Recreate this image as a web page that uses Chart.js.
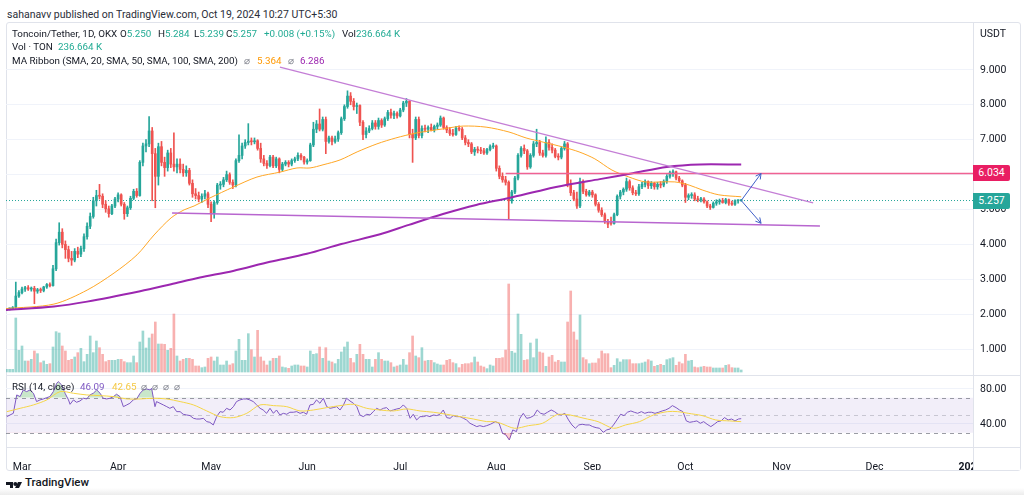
<!DOCTYPE html>
<html>
<head>
<meta charset="utf-8">
<script src="https://cdn.jsdelivr.net/npm/chart.js@4"></script>
<style>
  body { margin: 0; width: 1024px; height: 495px; overflow: hidden; background: #fff;
         font-family: Roboto, "Noto Sans", sans-serif; color: #131722; position: relative; }
  .abs { position: absolute; white-space: nowrap; }
  .frame { position: absolute; left: 6px; top: 22px; width: 1013px; height: 447px;
           border: 1px solid #e0e3eb; border-radius: 3px; box-sizing: content-box; }
  .hline { position: absolute; height: 1px; background: #e0e3eb; }
  .vline { position: absolute; width: 1px; background: #e0e3eb; }
  .lg { position: absolute; font-size: 9.8px; line-height: 12px; white-space: nowrap; }
  .up { color: #22ab94; }
  .muted { color: #787b86; }
  .tag { position: absolute; left: 973px; width: 37px; height: 16px; line-height: 16px;
         color: #fff; font-size: 10.5px; text-align: center; border-radius: 0 2px 2px 0; }
  #main { position: absolute; left: 6px; top: 22px; }
  #rsi { position: absolute; left: 6px; top: 375px; }
</style>
</head>
<body>
<div class="abs" style="left:7px;top:8px;font-size:10.5px;color:#2a2e39;">sahanavv published on TradingView.com, Oct 19, 2024 10:27 UTC+5:30</div>

<div class="frame"></div>
<canvas id="main" width="1014" height="353"></canvas>
<canvas id="rsi" width="1014" height="95"></canvas>

<div class="hline" style="left:6px;top:375px;width:1014px;"></div>
<div class="hline" style="left:6px;top:447px;width:1014px;"></div>
<div class="vline" style="left:973px;top:22px;height:448px;"></div>

<!-- legends -->
<div class="lg" style="left:12px;top:28px;">Toncoin/Tether, 1D, OKX</div>
<div class="lg" style="left:120px;top:28px;">O<span class="up">5.250</span></div>
<div class="lg" style="left:158px;top:28px;">H<span class="up">5.284</span></div>
<div class="lg" style="left:194px;top:28px;">L<span class="up">5.239</span></div>
<div class="lg" style="left:226px;top:28px;">C<span class="up">5.257</span></div>
<div class="lg up" style="left:264px;top:28px;">+0.008 (+0.15%)</div>
<div class="lg" style="left:342px;top:28px;">Vol<span class="up">236.664 K</span></div>
<div class="lg" style="left:12px;top:41px;">Vol · TON</div>
<div class="lg up" style="left:58px;top:41px;">236.664 K</div>
<div class="lg" style="left:12px;top:55px;">MA Ribbon (SMA, 20, SMA, 50, SMA, 100, SMA, 200)</div>
<div class="lg muted" style="left:244px;top:55px;">⌀</div>
<div class="lg" style="left:257px;top:55px;color:#ff9800;">5.364</div>
<div class="lg muted" style="left:288px;top:55px;">⌀</div>
<div class="lg" style="left:300px;top:55px;color:#9c27b0;">6.286</div>
<div class="lg" style="left:993px;top:28px;transform:translateX(-50%);font-size:10.5px;">USDT</div>

<div class="lg" style="left:12px;top:381px;">RSI (14, close)</div>
<div class="lg" style="left:80px;top:381px;color:#7e57c2;">46.09</div>
<div class="lg" style="left:112px;top:381px;color:#f5c842;">42.65</div>
<div class="lg muted" style="left:141px;top:381px;letter-spacing:5px;">⌀⌀⌀⌀</div>

<div class="tag" id="tagRes" style="background:#e91e63;">6.034</div>
<div class="tag" id="tagLast" style="background:#26a69a;">5.257</div>

<div class="abs" style="left:6px;top:477px;">
  <svg width="16" height="10" viewBox="0 0 16 10"><path d="M0 0h7v10H4V3H0z" fill="#131722"/><circle cx="9.3" cy="2" r="2" fill="#131722"/><path d="M12 0h4l-5 10H7z" fill="#131722"/></svg>
</div>
<div class="abs" style="left:25px;top:475px;font-size:11.5px;font-weight:500;">TradingView</div>
<div class="abs" style="left:0;top:488px;width:1024px;height:7px;background:linear-gradient(#fff,#ececec);"></div>

<script>
// day 0 = 1 Mar 2024, first candle 25 Feb 2024
const firstDay = -5;

const opens = [
  2.12,2.15,2.16,2.19,2.52,2.62,2.72,2.76,2.72,2.74,
  2.66,2.70,2.68,2.78,2.85,2.82,3.30,4.05,4.35,4.00,
  3.85,3.60,3.55,3.80,3.72,3.88,4.22,4.52,4.80,5.25,
  5.40,5.38,5.15,5.02,4.88,5.10,5.30,5.42,5.15,4.88,
  5.05,5.32,5.52,5.40,6.35,6.82,6.88,7.25,6.60,5.95,
  6.80,6.35,6.20,6.62,6.30,6.22,6.30,6.15,6.05,6.12,
  5.75,5.45,5.40,5.30,5.38,5.45,5.15,4.90,5.20,5.70,
  5.72,5.85,6.00,5.78,5.70,6.40,6.55,6.82,6.92,6.96,
  6.94,6.97,6.75,6.45,6.32,6.26,6.50,6.25,6.45,6.15,
  6.30,6.35,6.30,6.40,6.45,6.55,6.50,6.36,6.40,6.85,
  7.30,7.45,7.30,7.58,6.95,7.05,6.95,7.02,7.20,7.60,
  7.95,8.25,8.10,7.95,7.98,7.50,7.15,7.25,7.32,7.48,
  7.38,7.55,7.42,7.60,7.78,7.70,7.75,7.68,7.85,8.05,
  8.10,7.15,7.05,7.58,7.12,7.32,7.30,7.35,7.28,7.38,
  7.42,7.62,7.35,7.28,7.18,7.15,7.33,7.30,7.05,6.92,
  6.88,6.65,6.72,6.70,6.68,6.62,6.72,6.80,6.82,6.18,
  5.95,5.85,5.78,5.25,5.50,5.90,6.55,6.75,6.68,6.22,
  6.55,6.88,6.92,6.62,6.55,6.92,6.78,6.70,6.52,6.50,
  6.75,6.88,5.72,5.48,5.30,5.10,5.80,5.52,5.42,5.50,
  5.42,5.15,4.98,4.85,4.65,4.62,4.60,4.85,5.38,5.50,
  5.58,5.80,5.62,5.48,5.45,5.65,5.72,5.80,5.68,5.75,
  5.65,5.72,5.70,5.80,5.95,6.05,6.08,5.90,5.82,5.70,
  5.35,5.40,5.42,5.30,5.28,5.30,5.22,5.10,5.06,5.18,
  5.22,5.25,5.20,5.28,5.18,5.15,5.25,5.250
];
const highs = [
  2.17,2.18,2.22,2.92,2.68,2.78,2.80,2.82,2.78,2.80,
  2.74,2.75,2.80,2.88,2.90,3.40,4.15,4.62,4.45,4.10,
  3.95,3.80,3.88,3.92,3.95,4.30,4.62,4.90,5.35,5.55,
  5.72,5.45,5.25,5.10,5.15,5.35,5.48,5.45,5.20,5.10,
  5.38,5.58,5.60,6.40,6.90,7.00,7.66,7.35,6.75,6.90,
  6.95,6.50,6.70,6.75,7.20,6.45,6.45,6.30,6.25,6.18,
  5.85,5.60,5.50,5.45,5.55,5.50,5.22,5.25,5.75,5.80,
  5.92,6.10,6.05,5.85,6.45,7.14,6.90,7.00,7.46,7.05,
  7.05,7.00,6.90,6.55,6.40,6.55,6.55,6.50,6.48,6.35,
  6.40,6.40,6.45,6.50,6.62,6.60,6.52,6.45,6.90,7.50,
  7.55,7.88,7.65,7.65,7.10,7.10,7.10,7.25,7.65,8.00,
  8.40,8.35,8.18,8.05,8.00,7.55,7.35,7.40,7.55,7.55,
  7.62,7.60,7.65,7.84,7.88,7.82,7.80,7.90,8.10,8.18,
  8.12,7.30,7.65,7.65,7.40,7.42,7.40,7.45,7.42,7.48,
  7.68,7.65,7.40,7.35,7.30,7.38,7.40,7.35,7.12,7.00,
  6.92,6.78,6.80,6.78,6.75,6.75,6.85,6.90,6.85,6.25,
  6.05,5.95,5.82,5.55,5.95,6.60,6.80,6.85,6.72,6.60,
  6.95,7.30,6.98,6.70,7.08,7.00,6.88,6.75,6.60,6.80,
  6.95,6.92,5.85,5.55,5.50,5.90,5.85,5.58,5.55,5.55,
  5.45,5.20,5.05,4.90,4.72,4.78,4.90,5.42,5.55,5.62,
  5.90,5.85,5.68,5.55,5.72,5.78,5.85,5.82,5.80,5.78,
  5.78,5.80,5.85,6.00,6.10,6.14,6.10,5.95,5.85,5.75,
  5.45,5.48,5.48,5.38,5.35,5.34,5.25,5.15,5.22,5.28,
  5.30,5.32,5.32,5.30,5.24,5.28,5.28,5.284
];
const lows = [
  2.10,2.12,2.14,2.17,2.48,2.58,2.65,2.68,2.66,2.30,
  2.60,2.62,2.64,2.74,2.78,2.80,3.25,3.98,3.90,3.60,
  3.50,3.40,3.50,3.62,3.65,3.80,4.15,4.45,4.75,5.10,
  5.30,5.05,4.92,4.78,4.85,5.05,5.22,5.10,4.72,4.80,
  5.00,5.28,5.35,5.38,6.25,6.65,6.80,5.25,5.05,5.70,
  6.25,5.95,6.10,6.20,6.10,6.05,6.05,5.95,5.95,5.70,
  5.35,5.30,5.22,5.20,5.30,5.05,4.65,4.75,5.15,5.58,
  5.65,5.80,5.72,5.60,5.65,6.35,6.45,6.75,6.85,6.85,
  6.88,6.70,6.35,6.25,6.18,6.22,6.20,6.20,6.05,6.10,
  6.25,6.22,6.25,6.35,6.40,6.42,6.30,6.30,6.38,6.80,
  7.20,7.25,7.25,6.60,6.90,6.85,6.90,6.95,7.15,7.55,
  7.90,8.00,7.85,7.75,7.40,7.00,7.05,7.20,7.28,7.30,
  7.30,7.35,7.38,7.55,7.62,7.60,7.62,7.65,7.80,7.95,
  7.05,6.35,7.00,7.05,7.05,7.22,7.20,7.25,7.22,7.30,
  7.38,7.30,7.20,7.12,7.10,7.12,7.25,7.00,6.85,6.80,
  6.60,6.55,6.62,6.60,6.58,6.58,6.68,6.75,6.10,5.88,
  5.78,5.70,4.72,5.18,5.45,5.85,6.50,6.60,6.15,6.18,
  6.50,6.80,6.55,6.50,6.50,6.70,6.62,6.48,6.42,6.45,
  6.70,5.65,5.40,5.25,5.03,5.05,5.45,5.38,5.38,5.35,
  5.10,4.92,4.80,4.60,4.48,4.55,4.58,4.82,5.30,5.42,
  5.52,5.55,5.42,5.40,5.40,5.60,5.65,5.60,5.60,5.58,
  5.58,5.62,5.65,5.75,5.90,5.95,5.85,5.78,5.65,5.20,
  5.28,5.32,5.25,5.22,5.22,5.18,5.05,5.00,5.04,5.12,
  5.15,5.18,5.16,5.12,5.12,5.12,5.18,5.239
];
const closes = [
  2.15,2.16,2.19,2.52,2.62,2.72,2.76,2.72,2.74,2.66,
  2.70,2.68,2.78,2.85,2.82,3.30,4.05,4.35,4.00,3.85,
  3.60,3.55,3.80,3.72,3.88,4.22,4.52,4.80,5.25,5.40,
  5.38,5.15,5.02,4.88,5.10,5.30,5.42,5.15,4.88,5.05,
  5.32,5.52,5.40,6.35,6.82,6.88,7.25,6.60,5.95,6.80,
  6.35,6.20,6.62,6.30,6.22,6.30,6.15,6.05,6.12,5.75,
  5.45,5.40,5.30,5.38,5.45,5.15,4.90,5.20,5.70,5.72,
  5.85,6.00,5.78,5.70,6.40,6.55,6.82,6.92,6.96,6.94,
  6.97,6.75,6.45,6.32,6.26,6.50,6.25,6.45,6.15,6.30,
  6.35,6.30,6.40,6.45,6.55,6.50,6.36,6.40,6.85,7.30,
  7.45,7.30,7.58,6.95,7.05,6.95,7.02,7.20,7.60,7.95,
  8.25,8.10,7.95,7.98,7.50,7.15,7.25,7.32,7.48,7.38,
  7.55,7.42,7.60,7.78,7.70,7.75,7.68,7.85,8.05,8.10,
  7.15,7.05,7.58,7.12,7.32,7.30,7.35,7.28,7.38,7.42,
  7.62,7.35,7.28,7.18,7.15,7.33,7.30,7.05,6.92,6.88,
  6.65,6.72,6.70,6.68,6.62,6.72,6.80,6.82,6.18,5.95,
  5.85,5.78,5.25,5.50,5.90,6.55,6.75,6.68,6.22,6.55,
  6.88,6.92,6.62,6.55,6.92,6.78,6.70,6.52,6.50,6.75,
  6.88,5.72,5.48,5.30,5.10,5.80,5.52,5.42,5.50,5.42,
  5.15,4.98,4.85,4.65,4.58,4.60,4.85,5.38,5.50,5.58,
  5.80,5.62,5.48,5.45,5.65,5.72,5.80,5.68,5.75,5.65,
  5.72,5.70,5.80,5.95,6.05,6.08,5.90,5.82,5.70,5.35,
  5.40,5.42,5.30,5.28,5.30,5.22,5.10,5.06,5.18,5.22,
  5.25,5.20,5.28,5.18,5.15,5.25,5.25,5.257
];
// volume, millions of TON
const volumes = [
  0.32,0.32,0.32,6.48,2.60,3.12,1.32,1.32,1.52,2.52,
  2.20,1.12,1.32,0.92,1.00,3.00,4.84,4.68,3.12,2.52,
  1.40,1.52,1.80,2.32,2.84,1.24,2.12,4.32,2.32,3.72,
  2.92,2.12,1.24,1.40,1.40,1.40,1.52,1.52,1.24,1.12,
  1.12,1.92,1.12,3.60,4.92,2.88,4.08,4.56,6.00,3.36,
  3.36,3.32,2.60,2.84,6.96,1.92,1.32,1.52,1.64,1.64,
  1.52,0.72,0.72,0.52,0.60,1.64,1.80,1.32,1.80,0.84,
  0.84,1.32,0.84,1.00,2.52,3.92,1.40,1.40,4.60,2.68,
  1.80,5.00,1.80,1.32,0.84,1.32,1.64,1.64,1.92,0.60,
  0.52,0.44,0.72,0.84,0.84,0.72,0.72,0.60,2.52,2.12,
  2.20,3.00,1.64,2.92,1.32,1.20,1.00,1.52,2.40,3.00,
  3.60,1.64,1.12,2.12,3.32,2.12,1.52,1.52,0.60,1.52,
  2.32,1.52,1.32,1.32,1.12,0.60,0.72,0.84,1.52,0.84,
  2.32,4.32,1.92,1.72,2.92,1.32,1.40,1.40,1.12,0.96,
  0.84,0.84,1.40,1.52,1.12,1.00,0.52,0.92,1.00,1.00,
  1.12,1.80,1.20,0.72,0.60,0.40,0.84,0.72,1.64,1.64,
  1.72,2.64,10.56,2.48,2.28,6.96,4.52,1.40,1.48,3.48,
  1.72,3.96,2.40,2.28,0.68,1.80,2.00,1.20,1.40,1.20,
  1.20,6.00,9.72,4.80,3.84,6.84,1.72,1.48,1.00,1.08,
  1.08,1.60,2.52,2.20,2.20,0.52,0.80,1.60,1.20,1.48,
  1.48,1.48,1.00,1.00,1.00,1.08,1.20,1.48,1.32,0.68,
  0.80,0.92,0.80,1.48,1.60,1.72,0.80,1.20,1.00,2.12,
  1.32,1.40,0.60,0.52,0.60,0.68,0.60,0.60,0.48,0.48,
  0.48,0.48,0.80,0.88,0.52,0.48,0.48,0.24
];

// moving averages as [day, price]
const sma50Points = [
  [-5.2,2.16],[10.3,2.29],[21.0,2.69],[29.7,3.18],[37.1,3.70],[42.6,4.27],[48.1,4.76],
  [52.3,4.99],[55.5,5.10],[60.6,5.33],[68.1,5.64],[75.8,5.93],[83.2,6.07],[88.7,6.19],
  [92.9,6.19],[97.1,6.28],[102.6,6.42],[108.1,6.65],[114.5,6.88],[120.6,7.05],[127.1,7.19],
  [135.8,7.31],[142.3,7.39],[149.7,7.36],[157.1,7.22],[162.6,7.05],[168.1,6.93],[174.5,6.79],
  [179.7,6.65],[184.8,6.45],[190.3,6.13],[195.8,5.93],[201.0,5.79],[206.5,5.79],[210.6,5.79],
  [215.2,5.70],[219.4,5.56],[224.8,5.42],[232,5.364]
];
const sma200Points = [
  [-5.2,2.12],[10.3,2.22],[21.0,2.36],[38.1,2.66],[48.1,2.86],[57.4,3.05],[68.1,3.24],
  [80.0,3.50],[91.9,3.73],[103.0,4.01],[115.5,4.29],[124.8,4.56],[135.8,4.87],[146.5,5.13],
  [157.1,5.33],[168.1,5.56],[175.5,5.70],[186.4,5.87],[197.0,6.04],[208.0,6.22],[218.7,6.29],
  [232,6.286]
];

// drawings
const upperTrend = [[83.2, 9.08], [255.2, 5.19]];
const lowerTrend = [[48.4, 4.90], [257.4, 4.53]];
const resistance = 6.034;
const resistanceLine = [[156, resistance], [306.8, resistance]];
const lastPrice = 5.257;
const arrowUp = [[232, 5.257], [238.4, 6.03]];
const arrowDown = [[232, 5.257], [238.4, 4.605]];

const rsiPoints = [
  [-4.9,48.4],[-2.8,52.2],[-1.7,73.2],[-0.6,71.3],[0.4,78.9],[1.5,77.0],[2.6,78.9],[3.7,75.1],
  [4.7,65.6],[5.8,67.5],[6.9,68.6],[8.0,70.1],[9.0,71.3],[10.1,77.0],[11.2,86.5],[11.7,88.4],
  [12.8,84.6],[13.9,75.1],[15.0,67.5],[15.5,62.5],[16.6,67.5],[17.6,64.8],[18.7,66.3],[19.8,69.4],
  [20.9,68.6],[21.9,73.2],[23.0,75.1],[24.1,78.9],[25.2,75.1],[26.2,69.4],[27.3,68.6],[28.4,69.4],
  [29.5,71.3],[30.5,74.0],[31.6,71.3],[32.7,59.8],[33.8,61.8],[34.8,63.7],[35.9,67.5],[37.0,68.6],
  [38.1,75.1],[39.1,78.9],[40.2,80.0],[41.3,78.9],[41.8,80.8],[42.9,59.8],[43.4,65.6],[44.5,63.7],
  [45.6,61.8],[46.7,59.8],[47.7,57.9],[48.8,59.8],[49.9,54.1],[51.0,54.1],[52.0,51.1],[53.1,50.3],
  [54.2,49.6],[55.3,46.5],[56.3,45.7],[57.4,45.7],[58.5,46.5],[59.6,42.7],[60.6,41.9],[61.7,38.9],
  [62.8,48.4],[63.9,54.1],[64.9,53.4],[66.0,57.9],[67.1,56.0],[68.2,59.8],[69.2,65.6],[70.3,67.5],
  [71.4,68.6],[72.5,68.6],[73.5,67.5],[74.6,65.6],[75.7,61.8],[76.8,57.9],[77.8,56.0],[78.9,52.2],
  [80.0,57.9],[81.1,52.2],[82.1,56.0],[83.2,50.3],[84.3,52.2],[85.4,51.1],[86.4,53.4],[87.5,53.4],
  [88.6,54.1],[89.7,52.2],[90.8,53.4],[91.8,51.1],[92.9,61.8],[94.0,62.5],[95.0,67.5],[96.1,63.7],
  [97.2,69.4],[98.3,59.8],[99.4,57.9],[100.4,58.7],[101.5,59.8],[102.6,56.0],[103.7,61.8],[104.7,69.4],
  [105.8,66.3],[106.9,63.7],[108.0,59.8],[109.0,50.3],[110.1,48.4],[111.2,51.1],[112.3,50.3],[113.3,54.1],
  [114.4,57.9],[115.5,56.0],[116.6,57.9],[117.6,58.7],[118.7,54.9],[119.8,56.0],[120.9,57.2],[121.9,57.9],
  [123.0,61.8],[124.1,57.9],[125.2,46.5],[126.2,51.1],[127.3,44.6],[128.4,48.4],[129.5,48.4],[130.5,49.6],
  [131.6,48.4],[132.7,50.3],[133.8,49.6],[134.8,51.1],[135.9,56.0],[137.0,47.3],[138.1,46.5],[139.1,49.6],
  [140.2,48.4],[141.3,48.4],[142.4,46.5],[143.4,44.6],[144.5,40.8],[145.6,38.9],[146.7,37.0],[147.7,38.1],
  [148.8,37.0],[149.9,38.1],[151.1,39.7],[152.7,42.7],[153.9,40.8],[155.0,29.4],[156.1,27.5],[157.2,21.7],
  [158.3,33.2],[159.5,31.3],[160.6,46.5],[161.7,52.2],[162.8,46.5],[163.9,47.3],[165.1,49.6],[166.2,56.0],
  [167.3,52.2],[168.4,51.1],[169.5,53.4],[170.7,56.0],[171.8,54.1],[172.9,51.1],[174.0,50.3],[175.1,52.2],
  [176.3,44.6],[177.4,38.9],[178.5,35.1],[179.6,38.9],[180.7,39.7],[181.9,38.9],[183.0,38.9],[184.1,37.0],
  [185.2,35.8],[186.3,35.1],[187.5,30.5],[188.6,33.2],[189.7,34.3],[190.8,38.9],[191.9,44.6],[193.1,51.1],
  [194.2,49.6],[195.3,53.4],[196.4,54.9],[197.5,53.4],[198.6,52.2],[199.8,54.1],[200.9,52.2],[202.0,53.4],
  [203.1,53.4],[204.2,52.2],[205.4,53.4],[206.5,54.9],[207.6,56.0],[208.7,57.9],[209.8,61.0],[211.0,58.7],
  [212.1,56.0],[213.2,54.1],[214.3,43.5],[215.4,41.9],[216.6,42.7],[217.7,43.5],[218.8,40.8],[219.9,42.7],
  [221.0,39.7],[222.2,37.0],[223.3,39.7],[224.4,42.7],[225.5,43.5],[226.6,47.3],[227.8,44.6],[228.9,45.7],
  [230.0,43.5],[231.1,45.7],[232,46.09]
];
const rsiMaPoints = [
  [-4.9,54.1],[-0.6,57.9],[3.7,61.8],[8.0,67.5],[12.3,77.0],[16.6,75.1],[20.9,73.2],[25.2,72.4],
  [29.5,71.3],[33.8,68.6],[38.1,68.6],[42.4,69.4],[46.7,68.6],[51.0,65.6],[55.3,61.8],[59.6,54.9],
  [63.9,48.4],[68.2,47.3],[72.5,52.2],[76.8,61.8],[81.1,61.0],[85.4,59.8],[89.7,54.9],[94.0,56.0],
  [98.3,58.7],[102.6,61.0],[106.9,62.5],[111.2,57.9],[115.5,56.0],[119.8,54.9],[124.1,57.2],[128.4,54.9],
  [132.7,53.4],[137.0,51.1],[141.3,48.4],[145.6,45.7],[149.9,42.7],[152.2,42.7],[154.4,40.8],[158.9,35.1],
  [163.4,38.1],[167.9,40.8],[172.3,50.3],[174.6,51.1],[176.8,50.3],[181.3,46.5],[185.8,42.7],[190.8,35.1],
  [194.7,38.9],[199.2,42.7],[203.7,50.3],[208.2,54.1],[211.5,54.1],[214.9,52.2],[219.4,49.6],[223.8,44.6],
  [228.3,43.5],[232,42.65]
];
const rsiLevels = [70, 50, 30];

const monthTicks = [0, 31, 61, 92, 122, 153, 184, 214, 245, 275, 306];
const monthLabels = ['Mar', 'Apr', 'May', 'Jun', 'Jul', 'Aug', 'Sep', 'Oct', 'Nov', 'Dec', '2025'];
const priceTicks = [1, 2, 3, 4, 5, 6, 7, 8, 9];
const rsiTicks = [40, 80];

const UP = '#26a69a', DOWN = '#ef5350';
const xMin = -5.16, xMax = 306.77;

Chart.defaults.font.family = 'Roboto, "Noto Sans", sans-serif';
Chart.defaults.font.size = 10.5;
Chart.defaults.color = '#131722';

const toXY = arr => arr.map(p => ({ x: p[0], y: p[1] }));
const isUp = i => closes[i] >= opens[i];

const wickData = closes.map((c, i) => ({ x: firstDay + i, y: [lows[i], highs[i]] }));
const bodyData = closes.map((c, i) => ({ x: firstDay + i, y: [opens[i], closes[i]] }));
const volData = volumes.map((v, i) => ({ x: firstDay + i, y: v }));
const candleColors = closes.map((c, i) => isUp(i) ? UP : DOWN);
const volColors = closes.map((c, i) => isUp(i) ? 'rgba(38,166,154,0.45)' : 'rgba(239,83,80,0.45)');

function fixWidth(w) {
    return function (scale) {
        scale.width = w;
        scale.paddingTop = 0;
        scale.paddingBottom = 0;
    };
}

const arrowHeads = {
    id: 'arrowHeads',
    afterDatasetsDraw(chart) {
        const { ctx } = chart;
        chart.data.datasets.forEach((ds, i) => {
            if (!ds.arrow) return;
            const pts = chart.getDatasetMeta(i).data;
            const a = pts[pts.length - 2], b = pts[pts.length - 1];
            const ang = Math.atan2(b.y - a.y, b.x - a.x);
            ctx.save();
            ctx.strokeStyle = ds.borderColor;
            ctx.lineWidth = 1;
            ctx.beginPath();
            [0.5, -0.5].forEach(d => {
                ctx.moveTo(b.x, b.y);
                ctx.lineTo(b.x - 6 * Math.cos(ang + d), b.y - 6 * Math.sin(ang + d));
            });
            ctx.stroke();
            ctx.restore();
        });
    }
};

const priceTags = {
    id: 'priceTags',
    afterDraw(chart) {
        const y = chart.scales.y;
        document.getElementById('tagRes').style.top = (22 + y.getPixelForValue(resistance) - 8) + 'px';
        document.getElementById('tagLast').style.top = (22 + y.getPixelForValue(lastPrice) - 8) + 'px';
    }
};

new Chart(document.getElementById('main'), {
    type: 'line',
    data: {
        datasets: [
            { type: 'bar', data: volData, yAxisID: 'vol', backgroundColor: volColors,
              barThickness: 2, grouped: false, order: 10 },
            { type: 'bar', data: wickData, backgroundColor: candleColors,
              barThickness: 1, grouped: false, order: 6 },
            { type: 'bar', data: bodyData, backgroundColor: candleColors,
              barThickness: 2, minBarLength: 1, grouped: false, order: 5 },
            { data: [{ x: xMin, y: lastPrice }, { x: xMax, y: lastPrice }], borderColor: UP,
              borderWidth: 1, borderDash: [1, 2], pointRadius: 0, order: 7 },
            { data: toXY(sma200Points), borderColor: '#9c27b0', borderWidth: 2,
              pointRadius: 0, tension: 0.3, order: 3 },
            { data: toXY(sma50Points), borderColor: '#ffa726', borderWidth: 1,
              pointRadius: 0, tension: 0.3, order: 4 },
            { data: toXY(resistanceLine), borderColor: '#f06292', borderWidth: 1.5,
              pointRadius: 0, order: 2 },
            { data: toXY(upperTrend), borderColor: '#c47ed6', borderWidth: 1.2,
              pointRadius: 0, order: 1 },
            { data: toXY(lowerTrend), borderColor: '#b866cf', borderWidth: 1.5,
              pointRadius: 0, order: 1 },
            { data: toXY(arrowUp), borderColor: '#3f5fc8', borderWidth: 1,
              pointRadius: 0, order: 0, arrow: true },
            { data: toXY(arrowDown), borderColor: '#3f5fc8', borderWidth: 1,
              pointRadius: 0, order: 0, arrow: true }
        ]
    },
    options: {
        responsive: false,
        animation: false,
        events: [],
        layout: { padding: 0 },
        plugins: { legend: { display: false }, tooltip: { enabled: false } },
        scales: {
            x: { type: 'linear', min: xMin, max: xMax, offset: false, display: false },
            y: {
                position: 'right',
                min: 0.258,
                max: 10.372,
                afterBuildTicks: axis => { axis.ticks = priceTicks.map(v => ({ value: v })); },
                afterFit: fixWidth(47),
                grid: { color: '#f0f3fa', drawTicks: false },
                border: { display: false },
                ticks: { padding: 7, callback: v => v === 6 ? '' : v.toFixed(3) }
            },
            vol: { position: 'left', display: false, min: -0.36, max: 42 }
        }
    },
    plugins: [arrowHeads, priceTags]
});

const rsiBand = {
    id: 'rsiBand',
    beforeDatasetsDraw(chart) {
        const { ctx, chartArea: a, scales: { y } } = chart;
        const top = y.getPixelForValue(rsiLevels[0]);
        const bottom = y.getPixelForValue(rsiLevels[2]);
        ctx.save();
        ctx.fillStyle = 'rgba(126,87,194,0.1)';
        ctx.fillRect(a.left, top, a.right - a.left, bottom - top);
        ctx.setLineDash([4, 4]);
        ctx.lineWidth = 1;
        rsiLevels.forEach((lv, i) => {
            const yy = Math.round(y.getPixelForValue(lv)) + 0.5;
            ctx.strokeStyle = i === 1 ? 'rgba(120,123,134,0.35)' : 'rgba(120,123,134,0.75)';
            ctx.beginPath();
            ctx.moveTo(a.left, yy);
            ctx.lineTo(a.right, yy);
            ctx.stroke();
        });
        ctx.restore();
    }
};

// the price-axis column covers time labels that run past the plot
const axisMask = {
    id: 'axisMask',
    afterDraw(chart) {
        const { ctx, chartArea: a } = chart;
        ctx.save();
        ctx.fillStyle = '#fff';
        ctx.fillRect(a.right + 1, a.bottom + 1, chart.width - a.right, chart.height - a.bottom);
        ctx.restore();
    }
};

new Chart(document.getElementById('rsi'), {
    type: 'line',
    data: {
        datasets: [
            { data: toXY(rsiPoints), borderColor: 'rgba(0,0,0,0)', borderWidth: 0, pointRadius: 0,
              fill: { target: { value: 30 }, above: 'rgba(0,0,0,0)', below: 'rgba(242,54,69,0.25)' } },
            { data: toXY(rsiMaPoints), borderColor: '#f5d547', borderWidth: 1, pointRadius: 0, tension: 0.3 },
            { data: toXY(rsiPoints), borderColor: '#7e57c2', borderWidth: 1, pointRadius: 0,
              fill: { target: { value: 70 }, above: 'rgba(76,175,80,0.3)', below: 'rgba(0,0,0,0)' } }
        ]
    },
    options: {
        responsive: false,
        animation: false,
        events: [],
        layout: { padding: { top: 2, left: 0, right: 0, bottom: 0 } },
        plugins: { legend: { display: false }, tooltip: { enabled: false } },
        scales: {
            x: {
                type: 'linear', min: xMin, max: xMax, offset: false,
                afterBuildTicks: axis => { axis.ticks = monthTicks.map(v => ({ value: v })); },
                afterFit: scale => { scale.height = 23; scale.paddingLeft = 0; scale.paddingRight = 0; },
                grid: { display: false },
                border: { display: false },
                ticks: {
                    autoSkip: false, maxRotation: 0, padding: 6,
                    callback: (v, i) => monthLabels[i],
                    font: ctx => ({ size: 10.5, weight: ctx.index === monthLabels.length - 1 ? 'bold' : 'normal' })
                }
            },
            y: {
                position: 'right',
                min: 13.7,
                max: 93.7,
                afterBuildTicks: axis => { axis.ticks = rsiTicks.map(v => ({ value: v })); },
                afterFit: fixWidth(47),
                grid: { color: '#f0f3fa', drawTicks: false },
                border: { display: false },
                ticks: { padding: 7, callback: v => v.toFixed(2) }
            }
        }
    },
    plugins: [rsiBand, axisMask]
});
</script>
</body>
</html>
